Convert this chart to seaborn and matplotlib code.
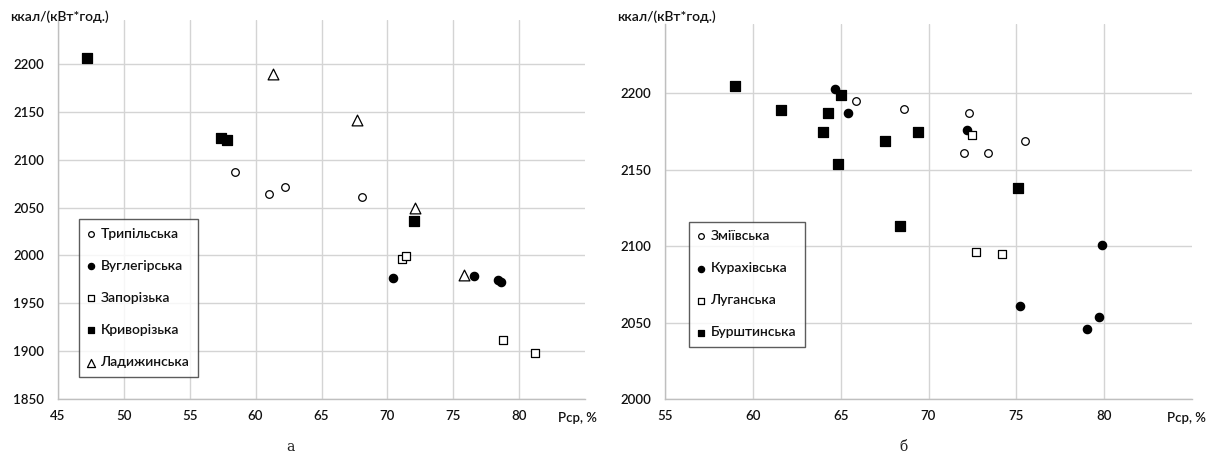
import matplotlib
matplotlib.use("Agg")
import matplotlib.pyplot as plt
import seaborn as sns
import pandas as pd

# ---------------- data: panel "а" ----------------
trypilska_x = [58.4, 61.0, 62.2, 68.1]
trypilska_y = [2087, 2064, 2071, 2061]
vuhlehirska_x = [70.4, 76.6, 78.4, 78.6]
vuhlehirska_y = [1976, 1979, 1974, 1972]
zaporizka_x = [71.1, 71.4, 78.8, 81.2]
zaporizka_y = [1996, 1999, 1912, 1898]
kryvorizka_x = [47.2, 57.4, 57.8, 72.05]
kryvorizka_y = [2206, 2122, 2120, 2036]
ladyzhynska_x = [61.3, 67.7, 72.1, 75.8]
ladyzhynska_y = [2189, 2141, 2050, 1980]

# ---------------- data: panel "б" ----------------
zmiivska_x = [65.9, 68.6, 72.3, 72.0, 73.4, 75.5]
zmiivska_y = [2195, 2190, 2187, 2161, 2161, 2169]
kurakhivska_x = [64.7, 65.4, 72.2, 79.9, 75.2, 79.7, 79.0]
kurakhivska_y = [2203, 2187, 2176, 2101, 2061, 2054, 2046]
luhanska_x = [72.45, 72.7, 74.2]
luhanska_y = [2173, 2096, 2095]
burshtynska_x = [59.0, 61.6, 64.3, 64.0, 64.85, 65.0, 67.5, 69.4, 75.1, 68.4]
burshtynska_y = [2205, 2189, 2187, 2175, 2154, 2199, 2169, 2175, 2138, 2113]

left_names = ["Трипільська", "Вуглегірська", "Запорізька", "Криворізька", "Ладижинська"]
right_names = ["Зміївська", "Курахівська", "Луганська", "Бурштинська"]
left_xticks = [45, 50, 55, 60, 65, 70, 75, 80]
left_yticks = [1850, 1900, 1950, 2000, 2050, 2100, 2150, 2200]
right_xticks = [55, 60, 65, 70, 75, 80]
right_yticks = [2000, 2050, 2100, 2150, 2200]
y_label = "ккал/(кВт*год.)"
x_label = "Рср, %"

sns.set_theme(style="white")
plt.rcParams['font.family'] = ['Lato', 'DejaVu Sans']

fig = plt.figure(figsize=(12.1, 4.61), dpi=100)
axL = fig.add_axes([58 / 1210, 1 - 399.3 / 461, 527 / 1210, (399.3 - 20.5) / 461])
axR = fig.add_axes([665 / 1210, 1 - 399.3 / 461, 527 / 1210, (399.3 - 24.4) / 461])

styles = {
    "oc": dict(marker="o", facecolor="white", edgecolor="black", s=30, linewidth=0.9),
    "fc": dict(marker="o", facecolor="black", edgecolor="black", s=36, linewidth=0.9),
    "os": dict(marker="s", facecolor="white", edgecolor="black", s=40, linewidth=0.9),
    "fs": dict(marker="s", facecolor="black", edgecolor="black", s=44, linewidth=0.9),
    "ot": dict(marker="^", facecolor="white", edgecolor="black", s=60, linewidth=0.9),
}

left_series = [
    (left_names[0], trypilska_x, trypilska_y, "oc"),
    (left_names[1], vuhlehirska_x, vuhlehirska_y, "fc"),
    (left_names[2], zaporizka_x, zaporizka_y, "os"),
    (left_names[3], kryvorizka_x, kryvorizka_y, "fs"),
    (left_names[4], ladyzhynska_x, ladyzhynska_y, "ot"),
]
right_series = [
    (right_names[0], zmiivska_x, zmiivska_y, "oc"),
    (right_names[1], kurakhivska_x, kurakhivska_y, "fc"),
    (right_names[2], luhanska_x, luhanska_y, "os"),
    (right_names[3], burshtynska_x, burshtynska_y, "fs"),
]


def draw(ax, series, xlim, ylim, xticks, yticks, leg_anchor):
    for name, xs, ys, st in series:
        df = pd.DataFrame({"x": xs, "y": ys})
        sns.scatterplot(data=df, x="x", y="y", ax=ax, label=name, zorder=3, **styles[st])
    ax.set_xlim(*xlim)
    ax.set_ylim(*ylim)
    ax.set_xticks(xticks)
    ax.set_yticks(yticks)
    ax.set_xlabel("")
    ax.set_ylabel("")
    ax.grid(True, color="#d4d4d4", linewidth=1.0)
    ax.set_axisbelow(True)
    for sp in ["top", "right"]:
        ax.spines[sp].set_visible(False)
    for sp in ["left", "bottom"]:
        ax.spines[sp].set_color("#bfbfbf")
        ax.spines[sp].set_linewidth(1.0)
    ax.tick_params(axis="both", length=0, labelsize=9.5, labelcolor="#111111")
    ax.tick_params(axis="y", pad=10)
    ax.tick_params(axis="x", pad=8)
    for t in ax.get_xticklabels() + ax.get_yticklabels():
        t.set_fontweight("semibold")
    leg = ax.legend(loc="upper left", bbox_to_anchor=leg_anchor, borderaxespad=0,
                    frameon=True, fancybox=False, fontsize=10, labelspacing=1.45,
                    handlelength=0.6, handletextpad=0.4, borderpad=0.6,
                    markerscale=0.75)
    leg.get_frame().set_edgecolor("#333333")
    leg.get_frame().set_linewidth(1.0)
    for t in leg.get_texts():
        t.set_fontweight("semibold")
        t.set_color("#111111")


draw(axL, left_series, (45, 85), (1850, 2245), left_xticks, left_yticks, (0.039, 0.475))
draw(axR, right_series, (55, 85), (2000, 2245), right_xticks, right_yticks, (0.0455, 0.4737))

# axis titles placed as in the reference
for xpix in (10, 617):
    fig.text(xpix / 1210, 1 - 17 / 461, y_label, fontsize=10, fontweight="semibold",
             va="center", ha="left", color="#111111")
for xpix in (558, 1167):
    fig.text(xpix / 1210, 1 - 418 / 461, x_label, fontsize=9.5, fontweight="semibold",
             va="center", ha="left", color="#111111")
fig.text(290 / 1210, 1 - 447 / 461, "а", fontsize=10, va="center", ha="center",
         family=["DejaVu Serif"], color="#222222")
fig.text(903 / 1210, 1 - 447 / 461, "б", fontsize=10, va="center", ha="center",
         family=["DejaVu Serif"], color="#222222")

fig.savefig("out.png", dpi=100)
